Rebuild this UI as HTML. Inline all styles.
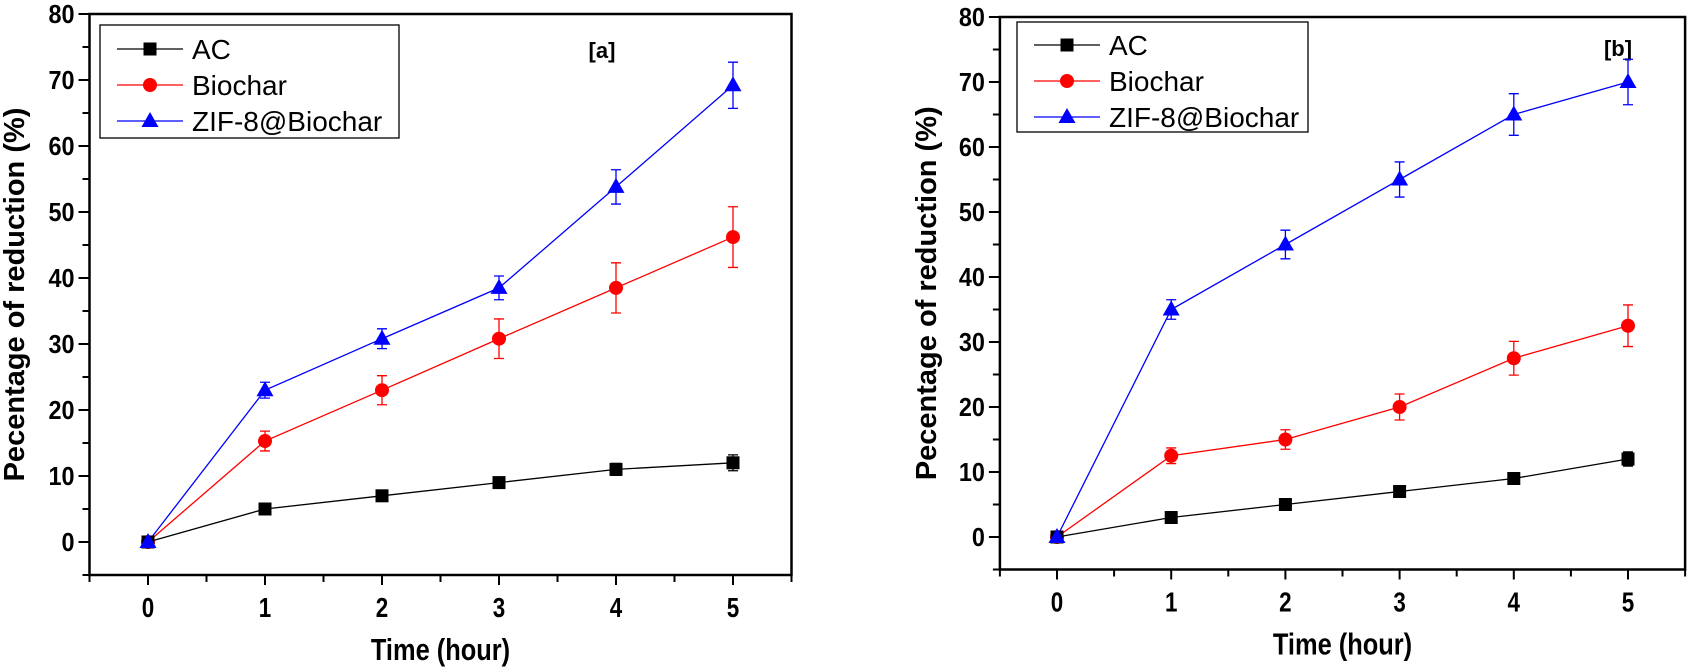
<!DOCTYPE html>
<html><head><meta charset="utf-8"><style>
html,body{margin:0;padding:0;background:#fff;}
svg{display:block;}
text{font-family:"Liberation Sans",Arial,sans-serif;}
</style></head><body>
<svg id="s" width="1689" height="667" viewBox="0 0 1689 667" xmlns="http://www.w3.org/2000/svg"></svg>
<script>
const s=document.getElementById('s');let h='';
function panel(P){
 const X=v=>P.x0+v*P.ux, Y=v=>P.y0-v*P.uy;
 const L=X(-0.5),R=X(5.5),T=Y(80),B=Y(-5);
 h+=`<rect x="${L}" y="${T}" width="${R-L}" height="${B-T}" fill="none" stroke="#000" stroke-width="2.5"/>`;
 for(let v=-5;v<=80;v+=5){const maj=v%10==0;const y=Y(v);
  h+=`<line x1="${L-(maj?11:7)}" x2="${L}" y1="${y}" y2="${y}" stroke="#000" stroke-width="2"/>`;
  if(maj&&v>=0)h+=`<text x="${L-15}" y="${y+9}" font-size="26" font-weight="bold" text-anchor="end" transform="translate(${L-15},0) scale(0.9,1) translate(${-(L-15)},0)">${v}</text>`;}
 for(let v=-0.5;v<=5.5;v+=0.5){const x=X(v);const maj=Number.isInteger(v);
  h+=`<line x1="${x}" x2="${x}" y1="${B}" y2="${B+(maj?10:7)}" stroke="#000" stroke-width="2"/>`;
  if(maj)h+=`<text x="${x}" y="${B+42}" font-size="28" font-weight="bold" text-anchor="middle" transform="translate(${x},0) scale(0.8,1) translate(${-x},0)">${v}</text>`;}
 const cx=(L+R)/2;
 h+=`<text x="${cx}" y="${B+85}" font-size="31" font-weight="bold" text-anchor="middle" transform="translate(${cx},0) scale(0.82,1) translate(${-cx},0)">Time (hour)</text>`;
 const cy=(T+B)/2;
 h+=`<text x="${P.tx}" y="${cy}" font-size="29" font-weight="bold" text-anchor="middle" transform="rotate(-90 ${P.tx} ${cy})">Pecentage of reduction (%)</text>`;
 h+=`<text x="${P.lab[0]}" y="${P.lab[1]}" font-size="22" font-weight="bold" text-anchor="middle">${P.lab[2]}</text>`;
 const cols=['#000','#f00','#00f'];
 P.series.forEach((d,i)=>{const c=cols[i];
  h+=`<polyline fill="none" stroke="${c}" stroke-width="1.3" points="${d.v.map((v,k)=>X(k)+','+Y(v)).join(' ')}"/>`;
  d.v.forEach((v,k)=>{const e=d.e[k];if(e>0){const x=X(k);h+=`<path d="M${x},${Y(v+e)}V${Y(v-e)}M${x-5},${Y(v+e)}H${x+5}M${x-5},${Y(v-e)}H${x+5}" stroke="${c}" stroke-width="1.3" fill="none"/>`;}});
 });
 [1,0,2].forEach(i=>{const d=P.series[i];d.v.forEach((v,k)=>{h+=mk(i,X(k),Y(v));});});
 const lg=P.leg;
 h+=`<rect x="${lg.x}" y="${lg.y}" width="${lg.w}" height="${lg.h}" fill="#fff" stroke="#000" stroke-width="1.3"/>`;
 ['AC','Biochar','ZIF-8@Biochar'].forEach((t,i)=>{const y=lg.y+lg.r0+i*36;
  h+=`<line x1="${lg.x+17}" x2="${lg.x+83}" y1="${y}" y2="${y}" stroke="${cols[i]}" stroke-width="1.3"/>`+mk(i,lg.x+50,y);
  h+=`<text x="${lg.x+92}" y="${y+10}" font-size="28">${t}</text>`;});
}
function mk(i,x,y){
 if(i==0)return `<rect x="${x-6.5}" y="${y-6.5}" width="13" height="13" fill="#000"/>`;
 if(i==1)return `<circle cx="${x}" cy="${y}" r="7" fill="#f00"/>`;
 return `<path d="M${x},${y-9}L${x+8.5},${y+6}L${x-8.5},${y+6}Z" fill="#00f"/>`;
}
panel({x0:148,ux:117,y0:542,uy:6.6,tx:24,lab:[602,58,'[a]'],
 leg:{x:100,y:25,w:299,h:113,r0:24},
 series:[{v:[0,5,7,9,11,12],e:[0,0.5,0.5,0.6,0.9,1.2]},
 {v:[0,15.3,23,30.8,38.5,46.2],e:[0.5,1.5,2.2,3,3.8,4.6]},
 {v:[0,23,30.8,38.5,53.8,69.2],e:[0,1.2,1.5,1.8,2.6,3.5]}]});
panel({x0:1057,ux:114.2,y0:537,uy:6.5,tx:936,lab:[1618,56,'[b]'],
 leg:{x:1017,y:22,w:291,h:110,r0:23},
 series:[{v:[0,3,5,7,9,12],e:[0,0.4,0.5,0.5,0.7,1.1]},
 {v:[0,12.5,15,20,27.5,32.5],e:[0.5,1.2,1.5,2,2.6,3.2]},
 {v:[0,35,45,55,65,70],e:[0,1.5,2.2,2.7,3.2,3.5]}]});
s.innerHTML=h;
</script>
</body></html>
